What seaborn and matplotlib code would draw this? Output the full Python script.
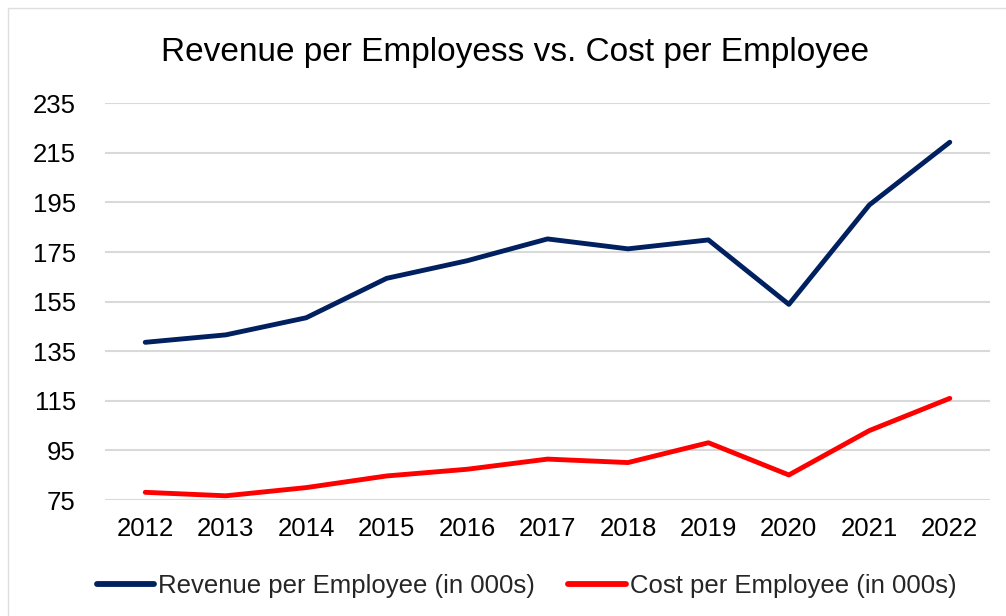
import matplotlib
matplotlib.use("Agg")
import matplotlib.pyplot as plt
from matplotlib.patches import Rectangle
import seaborn as sns
import pandas as pd

years = ["2012", "2013", "2014", "2015", "2016", "2017",
         "2018", "2019", "2020", "2021", "2022"]
revenue_per_employee = [138.6, 141.6, 148.5, 164.4, 171.5, 180.3,
                        176.3, 179.9, 153.9, 194.0, 219.3]
cost_per_employee = [78.1, 76.7, 80.0, 84.7, 87.4, 91.5,
                     90.1, 98.1, 85.1, 103.0, 116.0]
y_ticks = [75, 95, 115, 135, 155, 175, 195, 215, 235]

rev_label = "Revenue per Employee (in 000s)"
cost_label = "Cost per Employee (in 000s)"

df = pd.DataFrame({
    "Year": years * 2,
    "Value": revenue_per_employee + cost_per_employee,
    "Series": [rev_label] * len(years) + [cost_label] * len(years),
})

sns.set_theme(style="white")
plt.rcParams["font.family"] = ["Liberation Sans", "DejaVu Sans"]

fig = plt.figure(figsize=(10.06, 6.16), dpi=100)
ax = fig.add_axes([0.1044, 0.1883, 0.8797, 0.644])

# outer chart frame
fig.patches.append(Rectangle((8 / 1006, -0.05), 1.2, 1 - 8 / 616 + 0.05,
                             transform=fig.transFigure, fill=False,
                             edgecolor="#dedede", linewidth=1.0))

sns.lineplot(data=df, x="Year", y="Value", hue="Series",
             palette={rev_label: "#002060", cost_label: "#ff0000"},
             linewidth=3.5, ax=ax, legend=False, sort=False)
for line in ax.get_lines():
    line.set_solid_capstyle("round")
    line.set_solid_joinstyle("round")

ax.set_xlim(-0.5, len(years) - 0.5)
ax.set_ylim(75, 235)
ax.set_yticks(y_ticks)
ax.set_yticklabels([str(t) for t in y_ticks])
ax.yaxis.grid(True, color="#d9d9d9", linewidth=1.5)
ax.xaxis.grid(False)
for s in ax.spines.values():
    s.set_visible(False)
ax.tick_params(axis="y", length=0, pad=21, labelsize=18.5, labelcolor="black")
ax.tick_params(axis="x", length=0, pad=12, labelsize=18.5, labelcolor="black")
ax.set_xlabel("")
ax.set_ylabel("")

fig.text(0.512, 0.914, "Revenue per Employess vs. Cost per Employee",
         ha="center", va="center", fontsize=24, color="black")

handles = [plt.Line2D([], [], color="#002060", linewidth=4.2, solid_capstyle="round"),
           plt.Line2D([], [], color="#ff0000", linewidth=4.2, solid_capstyle="round")]
fig.legend(handles, [rev_label, cost_label], loc="center",
           bbox_to_anchor=(0.5235, 0.048), ncol=2, frameon=False,
           fontsize=18.5, handlelength=2.25, handletextpad=0.15,
           columnspacing=1.3)

fig.savefig("out.png", dpi=100, facecolor="white")
